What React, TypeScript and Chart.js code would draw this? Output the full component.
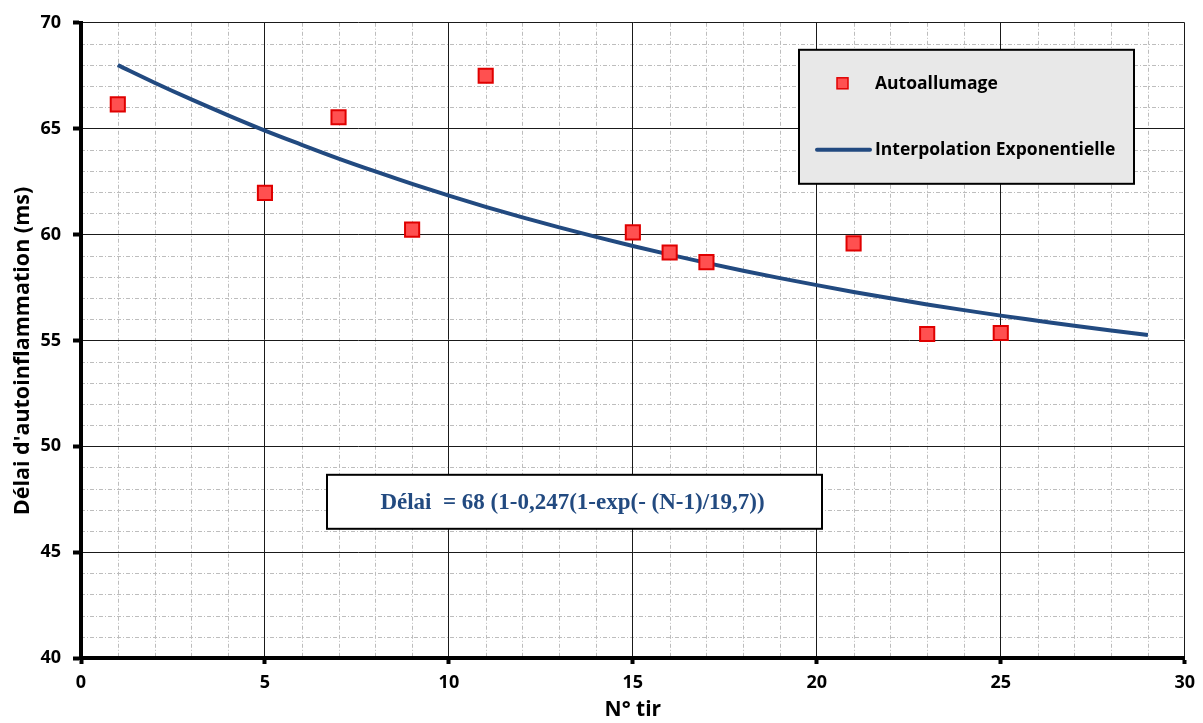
import React, { useEffect, useRef } from "react";
import { Chart, registerables } from "chart.js";

Chart.register(...registerables);

const tirs = [1, 5, 7, 9, 11, 15, 16, 17, 21, 23, 25];
const delais = [66.15, 61.97, 65.54, 60.23, 67.5, 60.1, 59.15, 58.7, 59.58, 55.3, 55.35];

const fitN = [1, 2, 3, 4, 5, 6, 7, 8, 9, 10, 11, 12, 13, 14, 15, 16, 17, 18, 19, 20, 21, 22, 23, 24, 25, 26, 27, 28, 29];
const fitDelai = [68.0, 67.17, 66.38, 65.63, 64.91, 64.24, 63.59, 62.98, 62.39, 61.84, 61.31, 60.81, 60.34, 59.89, 59.46, 59.05, 58.66, 58.29, 57.94, 57.61, 57.29, 56.99, 56.7, 56.43, 56.17, 55.93, 55.69, 55.47, 55.26];

const xTicks = [0, 5, 10, 15, 20, 25, 30];
const yTicks = [40, 45, 50, 55, 60, 65, 70];

const seriesPoints = "Autoallumage";
const seriesFit = "Interpolation Exponentielle";
const equation = "Délai  = 68 (1-0,247(1-exp(- (N-1)/19,7))";
const xTitle = "N° tir";
const yTitle = "Délai d'autoinflammation (ms)";

const FONT = "'Open Sans', sans-serif";
const RED_FILL = "#ff5050";
const RED_BORDER = "#e00000";
const BLUE = "#224a80";

const minorGrid = {
  id: "minorGrid",
  beforeDraw(chart: any) {
    const { ctx, chartArea, scales } = chart;
    const xs = scales.x;
    const ys = scales.y;
    ctx.save();
    ctx.strokeStyle = "#bdbdbd";
    ctx.lineWidth = 1;
    ctx.setLineDash([4, 2, 1, 2]);
    for (let v = xs.min; v <= xs.max; v += 1) {
      if (v % 5 === 0) continue;
      const px = Math.round(xs.getPixelForValue(v)) + 0.5;
      ctx.beginPath();
      ctx.moveTo(px, chartArea.top);
      ctx.lineTo(px, chartArea.bottom);
      ctx.stroke();
    }
    for (let v = ys.min; v <= ys.max; v += 1) {
      if (v % 5 === 0) continue;
      const py = Math.round(ys.getPixelForValue(v)) + 0.5;
      ctx.beginPath();
      ctx.moveTo(chartArea.left, py);
      ctx.lineTo(chartArea.right, py);
      ctx.stroke();
    }
    ctx.restore();
  },
};

const overlays = {
  id: "overlays",
  afterDraw(chart: any) {
    const { ctx, chartArea } = chart;
    const L = chartArea.left;
    const T = chartArea.top;
    ctx.save();
    // Y axis title
    ctx.save();
    ctx.translate(23, 351);
    ctx.rotate(-Math.PI / 2);
    ctx.fillStyle = "#000";
    ctx.font = `bold 21.5px ${FONT}`;
    ctx.textAlign = "center";
    ctx.textBaseline = "middle";
    ctx.fillText(yTitle, 0, 0);
    ctx.restore();
    // Legend box
    const lx = L + 718, ly = T + 27, lw = 335, lh = 134;
    ctx.fillStyle = "#e8e8e8";
    ctx.fillRect(lx, ly, lw, lh);
    ctx.strokeStyle = "#000";
    ctx.lineWidth = 2;
    ctx.strokeRect(lx, ly, lw, lh);
    // marker
    ctx.fillStyle = RED_FILL;
    ctx.strokeStyle = RED_BORDER;
    ctx.lineWidth = 1.5;
    ctx.fillRect(lx + 38, ly + 28, 11, 11);
    ctx.strokeRect(lx + 38, ly + 28, 11, 11);
    // line
    ctx.strokeStyle = BLUE;
    ctx.lineWidth = 4;
    ctx.lineCap = "round";
    ctx.beginPath();
    ctx.moveTo(lx + 18, ly + 100);
    ctx.lineTo(lx + 71, ly + 100);
    ctx.stroke();
    ctx.fillStyle = "#000";
    ctx.font = `bold 17.5px ${FONT}`;
    ctx.textBaseline = "middle";
    ctx.textAlign = "left";
    ctx.fillText(seriesPoints, lx + 76, ly + 34);
    ctx.fillText(seriesFit, lx + 76, ly + 100);
    // Equation box
    const ex = L + 246, ey = T + 452, ew = 495, eh = 54;
    ctx.fillStyle = "#fff";
    ctx.fillRect(ex, ey, ew, eh);
    ctx.strokeStyle = "#000";
    ctx.lineWidth = 2;
    ctx.strokeRect(ex, ey, ew, eh);
    ctx.fillStyle = BLUE;
    ctx.font = `bold 23px 'Liberation Serif', 'Times New Roman', serif`;
    ctx.textAlign = "center";
    ctx.fillText(equation, ex + ew / 2 - 2, ey + eh / 2 + 1);
    ctx.restore();
  },
};

export default function App() {
  const ref = useRef<HTMLCanvasElement | null>(null);
  useEffect(() => {
    document.body.style.margin = "0";
    const canvas = ref.current!;
    const chart = new Chart(canvas, {
      type: "scatter",
      data: {
        datasets: [
          {
            label: seriesFit,
            data: fitN.map((n, i) => ({ x: n, y: fitDelai[i] })),
            showLine: true,
            borderColor: BLUE,
            borderWidth: 4,
            pointRadius: 0,
            cubicInterpolationMode: "monotone",
            order: 2,
          } as any,
          {
            label: seriesPoints,
            data: tirs.map((n, i) => ({ x: n, y: delais[i] })),
            pointStyle: "rect",
            pointRadius: 10,
            pointBackgroundColor: RED_FILL,
            pointBorderColor: RED_BORDER,
            pointBorderWidth: 2,
            showLine: false,
            order: 1,
          } as any,
        ],
      },
      options: {
        animation: false,
        responsive: false,
        layout: { padding: { top: 19, right: 18, left: 0, bottom: 0 } },
        plugins: {
          legend: { display: false },
          tooltip: { enabled: false },
        },
        scales: {
          x: {
            type: "linear",
            min: 0,
            max: 30,
            afterBuildTicks: (s: any) => {
              s.ticks = xTicks.map((v) => ({ value: v }));
            },
            afterFit: (s: any) => {
              s.height = 65;
            },
            ticks: {
              color: "#000",
              font: { family: FONT, size: 18, weight: "bold" },
              padding: 8,
              maxRotation: 0,
            },
            grid: {
              color: "#1a1a1a",
              lineWidth: 1,
              tickColor: "#000",
              tickLength: 6,
              tickWidth: 4,
            },
            border: { color: "#000", width: 4 },
            title: {
              display: true,
              text: xTitle,
              color: "#000",
              font: { family: FONT, size: 21, weight: "bold" },
              padding: { top: 0, bottom: 0 },
            },
          },
          y: {
            type: "linear",
            min: 40,
            max: 70,
            afterBuildTicks: (s: any) => {
              s.ticks = yTicks.map((v) => ({ value: v }));
            },
            afterFit: (s: any) => {
              s.width = 81;
            },
            ticks: {
              color: "#000",
              font: { family: FONT, size: 18, weight: "bold" },
              padding: 12,
            },
            grid: {
              color: "#1a1a1a",
              lineWidth: 1,
              tickColor: "#000",
              tickLength: 8,
              tickWidth: 4,
            },
            border: { color: "#000", width: 4 },
            title: { display: false },
          },
        },
      },
      plugins: [minorGrid, overlays],
    });
    return () => chart.destroy();
  }, []);
  return <canvas ref={ref} width={1203} height={723} style={{ display: "block" }} />;
}
